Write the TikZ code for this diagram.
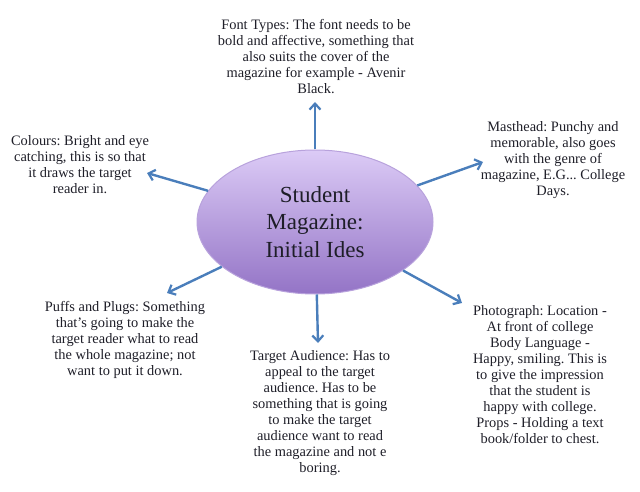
\documentclass[tikz,border=0pt]{standalone}
\usepackage{fontspec}
\setmainfont{Liberation Serif}
\usetikzlibrary{shapes.geometric,arrows.meta,shadows}
\definecolor{arrowblue}{HTML}{4A7EBB}
\definecolor{txt}{HTML}{1E1E28}
\definecolor{ellTop}{HTML}{DCCBF6}
\definecolor{ellBot}{HTML}{9474C6}
\definecolor{ellLine}{HTML}{B8A2DC}
\begin{document}
\frenchspacing
\begin{tikzpicture}[x=1pt,y=-1pt,
  note/.style={align=center,inner sep=0pt,text=txt,font=\fontsize{14.4}{16}\selectfont},
  link/.style={draw=arrowblue,line width=2.4pt,-{Straight Barb[length=6pt,width=11pt,line width=2.2pt]}},
  hub/.style={ellipse,minimum width=236pt,minimum height=144pt,inner sep=0pt,
     top color=ellTop,bottom color=ellBot,draw=ellLine,line width=1pt,
     align=center,text=txt,font=\fontsize{23}{27.5}\selectfont}]
\useasboundingbox (0,0) rectangle (640,492);
\node[hub] (c) at (315,222) {Student\\Magazine:\\Initial Ides};
\node[note] (font) at (316,57) {Font Types: The font needs to be\\bold and affective, something that\\also suits the cover of the\\magazine for example - Avenir\\Black.};
\node[note] (col) at (80,165) {Colours: Bright and eye\\catching, this is so that\\it draws the target\\reader in.};
\node[note] (mast) at (553,160) {Masthead: Punchy and\\memorable, also goes\\with the genre of\\magazine, E.G... College\\Days.};
\node[note] (puff) at (125,340) {Puffs and Plugs: Something\\that's going to make the\\target reader what to read\\the whole magazine; not\\want to put it down.};
\node[note] (targ) at (320,413) {Target Audience: Has to\\appeal to the target\\audience. Has to be\\something that is going\\to make the target\\audience want to read\\the magazine and not e\\boring.};
\node[note] (photo) at (540,375) {Photograph: Location -\\At front of college\\Body Language -\\Happy, smiling. This is\\to give the impression\\that the student is\\happy with college.\\Props - Holding a text\\book/folder to chest.};
\coordinate (tTop) at (315,102);
\coordinate (tLeft) at (147,173);
\coordinate (tRight) at (483,162);
\coordinate (tLL) at (167,293);
\coordinate (tLR) at (462,303);
\coordinate (tBot) at (318,343);
\foreach \t in {tTop,tLeft,tRight,tLL,tLR,tBot} \draw[link] (c) -- (\t);
\end{tikzpicture}
\end{document}
